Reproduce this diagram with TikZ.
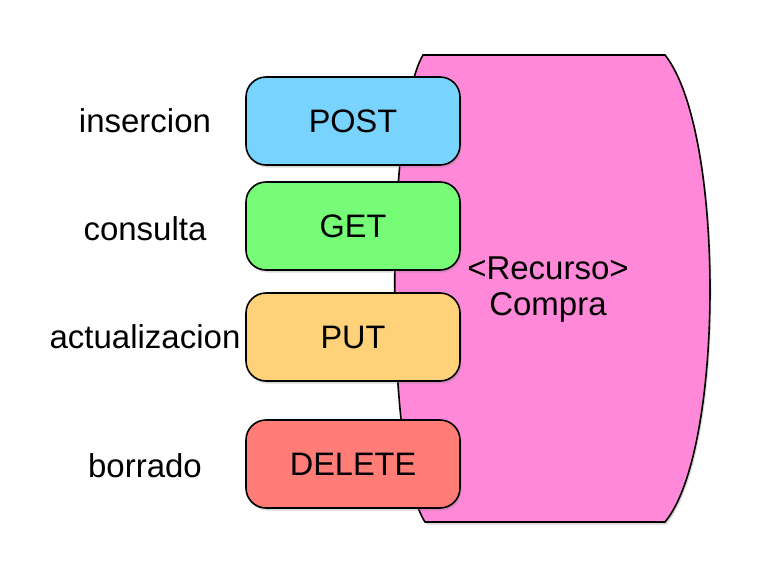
\documentclass[tikz,border=0pt]{standalone}
\usepackage{fontspec}
\setmainfont{Liberation Sans}
\usetikzlibrary{shadows}

\definecolor{postblue}{RGB}{120,212,255}
\definecolor{getgreen}{RGB}{118,252,118}
\definecolor{putorange}{RGB}{255,210,122}
\definecolor{delred}{RGB}{255,125,118}
\definecolor{recpink}{RGB}{255,136,216}

\tikzset{
  verbo/.style={draw=black, line width=1.6pt, rounded corners=20pt, minimum width=214pt, minimum height=88pt, inner sep=0pt, font=\fontsize{32.5}{37}\selectfont, drop shadow={shadow xshift=1.5pt, shadow yshift=-2.5pt, opacity=0.3}},
  accion/.style={font=\fontsize{33}{37}\selectfont, inner sep=0pt}
}

\begin{document}
\begin{tikzpicture}[x=1pt, y=-1pt]
  \useasboundingbox (0,0) rectangle (757,565);

  % Ресурс
  \coordinate (A) at (423,55);
  \coordinate (B) at (665,55);
  \coordinate (C) at (665,522);
  \coordinate (D) at (425,522);
  \draw[recpink, fill=recpink, draw=black, line width=1.6pt, drop shadow={shadow xshift=1.5pt, shadow yshift=-2.5pt, opacity=0.3}]
    (A) -- (B) .. controls (725,130) and (725,450) .. (C)
    -- (D) .. controls (385,460) and (385,120) .. (A) -- cycle;
  \node[accion, align=center] (recurso) at (548,290) {<Recurso>\\[-1pt]Compra};

  % Методы
  \node[verbo, fill=postblue] (post) at (353,121) {POST};
  \node[verbo, fill=getgreen] (get) at (353,226) {GET};
  \node[verbo, fill=putorange] (put) at (353,337) {PUT};
  \node[verbo, fill=delred] (delete) at (353,464) {DELETE};

  % Подписи
  \node[accion] (insercion) at (145,121) {insercion};
  \node[accion] (consulta) at (145,229) {consulta};
  \node[accion] (actualizacion) at (145,337) {actualizacion};
  \node[accion] (borrado) at (145,466) {borrado};
\end{tikzpicture}
\end{document}
